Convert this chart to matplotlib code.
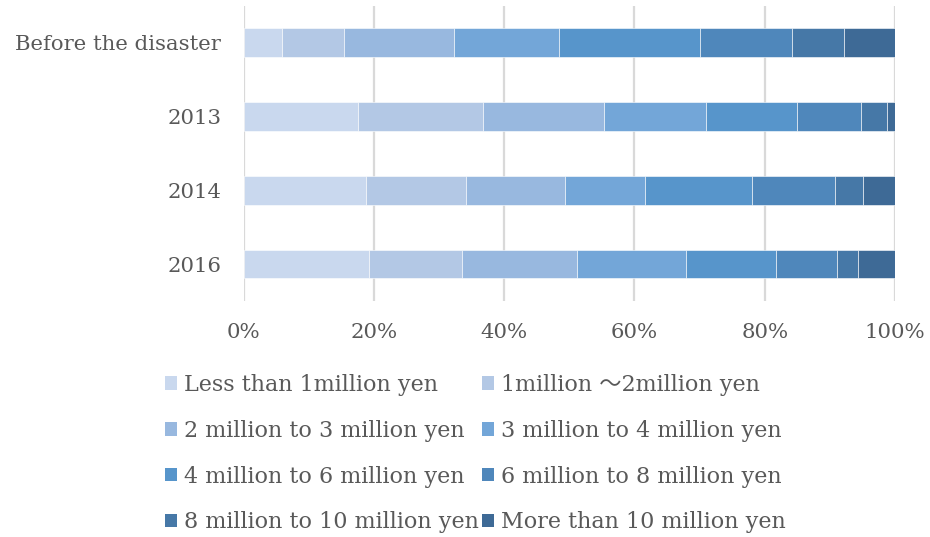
import matplotlib
matplotlib.use("Agg")
import matplotlib.pyplot as plt
from matplotlib.patches import Patch
import numpy as np

categories = ["Before the disaster", "2013", "2014", "2016"]

series_names = [
    "Less than 1million yen",
    "1million \uff5e2million yen",
    "2 million to 3 million yen",
    "3 million to 4 million yen",
    "4 million to 6 million yen",
    "6 million to 8 million yen",
    "8 million to 10 million yen",
    "More than 10 million yen",
]

# share of households (%) per income band, one list per category row
before_disaster = [5.9, 9.5, 16.9, 16.2, 21.6, 14.1, 7.9, 7.9]
year_2013 = [17.5, 19.2, 18.6, 15.7, 14.0, 9.8, 4.0, 1.2]
year_2014 = [18.8, 15.3, 15.2, 12.4, 16.3, 12.8, 4.3, 4.9]
year_2016 = [19.2, 14.3, 17.7, 16.7, 13.9, 9.3, 3.2, 5.7]

x_ticks = [0, 20, 40, 60, 80, 100]
x_tick_labels = ["0%", "20%", "40%", "60%", "80%", "100%"]

colors = ["#c9d8ee", "#b3c8e5", "#98b8df", "#73a6d8",
          "#5795cb", "#4f87bb", "#4678a7", "#3e6a96"]

text_color = "#595959"
plt.rcParams["font.family"] = ["DejaVu Serif", "Noto Sans CJK JP"]

data = np.array([before_disaster, year_2013, year_2014, year_2016])

fig = plt.figure(figsize=(9.3, 5.37), dpi=100)
ax = fig.add_axes([243.5 / 930, 1 - 301 / 537, (895 - 243.5) / 930, (301 - 5.6) / 537])

y = np.arange(len(categories))
left = np.zeros(len(categories))
for i, name in enumerate(series_names):
    ax.barh(y, data[:, i], left=left, height=0.39, color=colors[i],
            edgecolor="white", linewidth=0.4, label=name, zorder=3)
    left += data[:, i]

ax.set_xlim(0, 100)
ax.set_ylim(len(categories) - 0.5, -0.5)
ax.set_yticks(y)
ax.set_yticklabels(categories)
ax.set_xticks(x_ticks)
ax.set_xticklabels(x_tick_labels)
ax.tick_params(axis="both", length=0, colors=text_color, labelsize=15.3)
ax.tick_params(axis="x", pad=16)
ax.tick_params(axis="y", pad=16)
for s in ax.spines.values():
    s.set_visible(False)
ax.grid(axis="x", color="#d9d9d9", linewidth=1.6, zorder=0)
ax.set_axisbelow(True)

# legend reads row by row: reorder so the two columns hold even / odd entries
order = [0, 2, 4, 6, 1, 3, 5, 7]
handles = [Patch(facecolor=colors[k], edgecolor="none") for k in order]
labels = [series_names[k] for k in order]
leg = fig.legend(handles, labels, loc="upper left",
                 bbox_to_anchor=(165 / 930, 1 - 374 / 537), ncol=2,
                 frameon=False, fontsize=16, handlelength=0.55, handleheight=0.55,
                 handletextpad=0.3, columnspacing=0.15, labelspacing=1.07,
                 borderaxespad=0, borderpad=0)
for t in leg.get_texts():
    t.set_color(text_color)

fig.savefig("out.png", dpi=100, facecolor="white")
